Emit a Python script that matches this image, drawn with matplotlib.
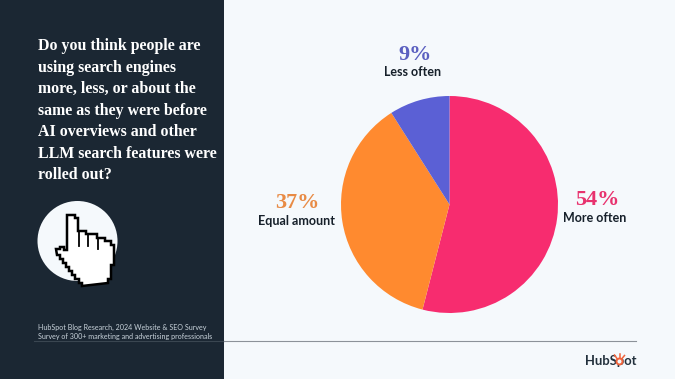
import matplotlib
matplotlib.use('Agg')
import matplotlib.pyplot as plt
from matplotlib.patches import Rectangle, Circle, Polygon

# pie data
labels = ['More often', 'Equal amount', 'Less often']
values = [54, 37, 9]
colors = ['#F72C6F', '#FF8A2F', '#5B60D5']
label_colors = ['#E8326E', '#E88B45', '#5B60C0']
pct_x = [597.5, 297.5, 415]
pct_y = [200, 203, 55]
name_x = [595, 296, 413]
name_y = [218, 221, 72]

title_lines = [
    'Do you think people are',
    'using search engines',
    'more, less, or about the',
    'same as they were before',
    'AI overviews and other',
    'LLM search features were',
    'rolled out?',
]
source_lines = [
    'HubSpot Blog Research, 2024 Website & SEO Survey',
    'Survey of 300+ marketing and advertising professionals',
]

W, H = 675, 379
BG = '#F5F9FC'
DARK = '#1B2733'

fig = plt.figure(figsize=(W / 100, H / 100), dpi=100, facecolor=BG)

# whole figure axes in pixels for the panel and text
ax = fig.add_axes([0, 0, 1, 1])
ax.set_xlim(0, W)
ax.set_ylim(H, 0)
ax.axis('off')

ax.add_patch(Rectangle((0, 0), 224, H, color=DARK, lw=0))
ax.plot([34, 224], [341, 341], color='#3A4651', lw=0.8)
ax.plot([224, 636], [341, 341], color='#8C9299', lw=0.8)

for i, line in enumerate(title_lines):
    ax.text(38, 46.5 + i * 21.4, line, color='white', family='Liberation Serif',
            weight='bold', fontsize=11.4, va='center', ha='left')

for i, line in enumerate(source_lines):
    ax.text(38, 327.5 + i * 9.5, line, color='#C9D3DB', family='Lato',
            fontsize=5.1, va='center', ha='left')

# pointer icon
ax.add_patch(Circle((77.5, 241), 40, color=BG, lw=0))
hand = [(67, 215), (75, 215), (75, 218), (78, 218), (78, 231), (86, 231), (86, 234),
        (97, 234), (97, 238), (105, 238), (105, 241), (111, 241), (111, 245), (114, 245),
        (114, 265), (111, 265), (111, 279), (108, 279), (108, 283), (82, 286), (82, 283),
        (79, 283), (79, 279), (75, 279), (75, 275), (72, 275), (72, 271), (69, 271),
        (69, 267), (66, 267), (66, 263), (63, 263), (63, 259), (60, 259), (60, 255),
        (57, 255), (56, 249), (60, 249), (60, 247), (64, 247), (64, 250), (67, 250)]
ax.add_patch(Polygon(hand, closed=True, fc='white', ec='black', lw=1.8, joinstyle='miter'))
ax.plot([79, 79], [231, 246], color='black', lw=1.3)
ax.plot([88, 88], [234, 246], color='black', lw=1.3)
ax.plot([98, 98], [238, 249], color='black', lw=1.3)

# pie
cx, cy, r = 449.5, 204.5, 108.5
pie_ax = fig.add_axes([(cx - r) / W, 1 - (cy + r) / H, 2 * r / W, 2 * r / H])
pie_ax.pie(values, colors=colors, startangle=90, counterclock=False, radius=1,
           wedgeprops={'linewidth': 0})
pie_ax.set_xlim(-1, 1)
pie_ax.set_ylim(-1, 1)

for name, val, col, px, py, nx, ny in zip(labels, values, label_colors, pct_x, pct_y, name_x, name_y):
    ax.text(px, py, f'{val}%', color=col, family='Liberation Serif',
            weight='bold', fontsize=16, ha='center', va='center')
    ax.text(nx, ny, name, color='#16202A', family='Lato',
            weight='bold', fontsize=9, ha='center', va='center')

# logo, the o gets an orange sprocket on top
ax.text(585, 361, 'HubSpot', color='#22303C', family='Lato', weight='bold', fontsize=9.4,
        ha='left', va='center')
ax.add_patch(Circle((619.5, 361.5), 3, fc=BG, ec='#F0643C', lw=1.4, zorder=5))
ax.plot([619.5, 619.5], [354, 358], color='#F0643C', lw=1.1, zorder=5)
ax.plot([614.5, 617], [355, 358.5], color='#F0643C', lw=1.1, zorder=5)
ax.plot([624.5, 622], [355.5, 358.5], color='#F0643C', lw=1.1, zorder=5)

fig.savefig('out.png', dpi=100, facecolor=BG)
